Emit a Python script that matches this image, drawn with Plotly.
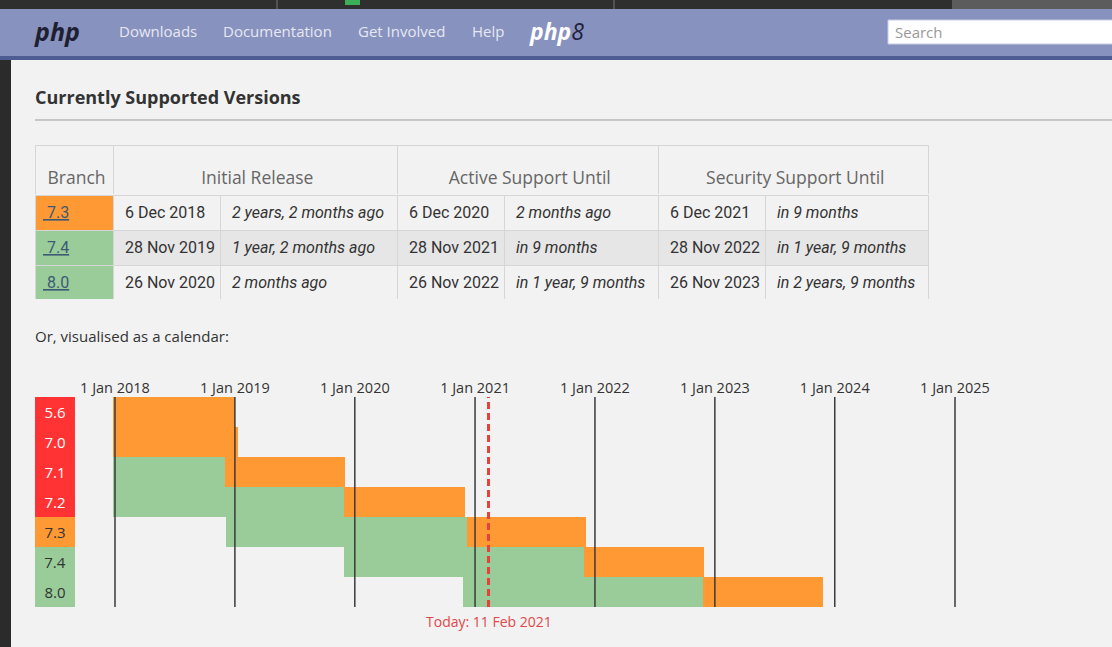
import pandas as pd
import plotly.graph_objects as go

W, H = 1112, 647

# --- table data ---
table_headers = ["Branch", "Initial Release", "Active Support Until", "Security Support Until"]
branches = ["7.3", "7.4", "8.0"]
initial_dates = ["6 Dec 2018", "28 Nov 2019", "26 Nov 2020"]
initial_ago = ["2 years, 2 months ago", "1 year, 2 months ago", "2 months ago"]
active_dates = ["6 Dec 2020", "28 Nov 2021", "26 Nov 2022"]
active_rel = ["2 months ago", "in 9 months", "in 1 year, 9 months"]
security_dates = ["6 Dec 2021", "28 Nov 2022", "26 Nov 2023"]
security_rel = ["in 9 months", "in 1 year, 9 months", "in 2 years, 9 months"]
branch_state = ["security", "stable", "stable"]

# --- calendar data ---
versions = ["5.6", "7.0", "7.1", "7.2", "7.3", "7.4", "8.0"]
version_state = ["eol", "eol", "eol", "eol", "security", "stable", "stable"]
released = ["2014-08-28", "2015-12-03", "2016-12-01", "2017-11-30", "2018-12-06", "2019-11-28", "2020-11-26"]
active_until = ["2017-01-19", "2017-12-03", "2018-12-01", "2019-11-30", "2020-12-06", "2021-11-28", "2022-11-26"]
security_until = ["2018-12-31", "2019-01-10", "2019-12-01", "2020-11-30", "2021-12-06", "2022-11-28", "2023-11-26"]
years = ["2018-01-01", "2019-01-01", "2020-01-01", "2021-01-01",
         "2022-01-01", "2023-01-01", "2024-01-01", "2025-01-01"]
year_labels = ["1 Jan 2018", "1 Jan 2019", "1 Jan 2020", "1 Jan 2021",
               "1 Jan 2022", "1 Jan 2023", "1 Jan 2024", "1 Jan 2025"]
today = "2021-02-11"
today_label = "Today: 11 Feb 2021"

FONT = "Open Sans"
CELL_FONT = "Roboto"
GREEN, ORANGE, RED = "#99cc99", "#ff9933", "#ff3333"
state_color = {"eol": RED, "security": ORANGE, "stable": GREEN}
state_text = {"eol": "white", "security": "#333333", "stable": "#333333"}
NBSP = "\u00a0"
EMPTY_HEADER = 16  # height plotly gives a table with no header row
LINE = dict(color="#d6d6d6", width=1)
NOLINE = dict(width=0)
CLEAR = "rgba(0,0,0,0)"


def px(x):
  return x / W


def py(y):
  return 1 - y / H


def ms(a, b):
  # bar length in milliseconds for the date axis
  d = pd.to_datetime(pd.Series(b)) - pd.to_datetime(pd.Series(a))
  return (d.dt.total_seconds() * 1000).tolist()


def cell(v, tag=None):
  # table cells wrap on plain spaces, so swap them for nbsp
  out = []
  for s in v:
    s = NBSP + s.replace(" ", NBSP)
    out.append("<%s>%s</%s>" % (tag, s, tag) if tag else s)
  return out


fig = go.Figure()

# ---- calendar bars ----
fig.add_trace(go.Bar(orientation="h", y=versions, base=released, x=ms(released, active_until),
                     width=1, marker=dict(color=GREEN, line=dict(width=0)),
                     hoverinfo="skip", showlegend=False))
fig.add_trace(go.Bar(orientation="h", y=versions, base=active_until, x=ms(active_until, security_until),
                     width=1, marker=dict(color=ORANGE, line=dict(width=0)),
                     hoverinfo="skip", showlegend=False))

# branch labels on the left of the calendar
fig.add_trace(go.Bar(orientation="h", y=versions, x=[1] * len(versions), xaxis="x2",
                     width=1, marker=dict(color=[state_color[s] for s in version_state], line=dict(width=0)),
                     text=versions, textposition="inside", insidetextanchor="middle", textangle=0,
                     textfont=dict(family=FONT, size=15, color=[state_text[s] for s in version_state]),
                     hoverinfo="skip", showlegend=False))

# year lines + today line (overlay axis so they sit above the bars)
lx, ly = [], []
for d in years:
  lx += [d, d, None]
  ly += [0, 1, None]
fig.add_trace(go.Scatter(x=lx, y=ly, yaxis="y2", mode="lines",
                         line=dict(color="#3a3a3a", width=1.5), hoverinfo="skip", showlegend=False))
fig.add_trace(go.Scatter(x=[today, today], y=[0, 1], yaxis="y2", mode="lines",
                         line=dict(color="#e8413a", width=3, dash="7px,4px"),
                         hoverinfo="skip", showlegend=False))

# ---- table ----
head_widths = [78, 284, 261, 270]
# header frame
fig.add_trace(go.Table(
  domain=dict(x=[px(35), px(928)], y=[py(195), py(145)]),
  columnwidth=head_widths,
  header=dict(values=[""] * len(table_headers), height=50, fill=dict(color="#f2f2f2"), line=LINE),
  cells=dict(values=[[] for _ in table_headers])))
# header labels, laid over the frame a bit lower (table text is top aligned)
fig.add_trace(go.Table(
  domain=dict(x=[px(35), px(928)], y=[py(213), py(163)]),
  columnwidth=head_widths,
  header=dict(values=cell(table_headers), height=50,
              align=["left", "center", "center", "center"],
              fill=dict(color=CLEAR), line=NOLINE,
              font=dict(family=FONT, size=17.5, color="#666666")),
  cells=dict(values=[[] for _ in table_headers])))

row_bg = ["#f2f2f2", "#e6e6e6", "#f2f2f2"]
body_cols = [cell(branches, "u"), cell(initial_dates, "span"), cell(initial_ago, "i"),
             cell(active_dates, "span"), cell(active_rel, "i"),
             cell(security_dates, "span"), cell(security_rel, "i")]
fills = [[state_color[s] for s in branch_state]] + [row_bg] * 6
fig.add_trace(go.Table(
  domain=dict(x=[px(35), px(928)], y=[py(300), py(195 - EMPTY_HEADER)]),
  columnwidth=[78, 107, 177, 107, 154, 107, 163],
  header=dict(values=[], fill=dict(color=CLEAR), line=NOLINE),
  cells=dict(values=body_cols, height=35, align="left",
             fill=dict(color=fills), line=LINE,
             font=dict(family=CELL_FONT, size=16, color=["#3c5a78"] + ["#333333"] * 6))))

# ---- page chrome ----
shapes = [
  dict(type="rect", x0=0, x1=W, y0=0, y1=9, fillcolor="#2f2f2f"),
  dict(type="rect", x0=952, x1=W, y0=0, y1=9, fillcolor="#5c5c5c"),
  dict(type="line", x0=277, x1=277, y0=0, y1=9, line=dict(color="#777", width=1)),
  dict(type="line", x0=614, x1=614, y0=0, y1=9, line=dict(color="#777", width=1)),
  dict(type="rect", x0=345, x1=360, y0=0, y1=5, fillcolor="#3cae5a"),
  dict(type="rect", x0=0, x1=W, y0=9, y1=56, fillcolor="#8892bf"),
  dict(type="rect", x0=0, x1=W, y0=56, y1=60, fillcolor="#4f5b93"),
  dict(type="rect", x0=0, x1=11, y0=60, y1=H, fillcolor="#2b2b2b"),
  dict(type="rect", x0=888, x1=W + 5, y0=20, y1=44, fillcolor="white", line=dict(color="#c8cbe0", width=1)),
  dict(type="line", x0=35, x1=W, y0=120, y1=120, line=dict(color="#999999", width=1)),
]
for s in shapes:
  s.setdefault("line", dict(width=0))
  s.update(xref="paper", yref="paper", layer="below",
           x0=px(s["x0"]), x1=px(s["x1"]), y0=py(s["y0"]), y1=py(s["y1"]))


def note(text, x, y, size=16, color="#333333", anchor="left"):
  return dict(text=text, x=px(x), y=py(y), xref="paper", yref="paper", xanchor=anchor, yanchor="middle",
              showarrow=False, font=dict(family=FONT, size=size, color=color))


nav_items = ["Downloads", "Documentation", "Get Involved", "Help"]
nav_x = [117, 221, 356, 470]
annotations = [note("<b><i>php</i></b>", 32, 31, size=25, color="#1f1f33")]
annotations += [note(t, x, 31, size=15, color="#e6e8f2") for t, x in zip(nav_items, nav_x)]
annotations += [
  note("<b><i>php</i></b><span style='color:#1f2340'><i>8</i></span>", 527, 31, size=23, color="white"),
  note("Search", 893, 32, size=15, color="#999999"),
  note("<b>Currently Supported Versions</b>", 33, 97, size=18, color="#333333"),
  note("Or, visualised as a calendar:", 33, 336, size=15, color="#333333"),
  dict(text=today_label, x=today, xref="x", y=py(621), yref="paper", xanchor="center", yanchor="middle",
       showarrow=False, font=dict(family=FONT, size=14, color="#e0484a")),
]

# date scale: 1 Jan 2018 at px 115, 120 px per year
x0 = pd.Timestamp("2018-01-01")
px_per_day = 840 / (pd.Timestamp("2025-01-01") - x0).days
left_px, right_px = 113, 1000
range_start = x0 - pd.Timedelta(days=(115 - left_px) / px_per_day)
range_end = x0 + pd.Timedelta(days=(right_px - 115) / px_per_day)

fig.update_layout(
  width=W, height=H, margin=dict(l=0, r=0, t=0, b=0, pad=0, autoexpand=False),
  paper_bgcolor="#f2f2f2", plot_bgcolor="rgba(0,0,0,0)",
  barmode="overlay", bargap=0, showlegend=False,
  font=dict(family=FONT, color="#333333"),
  shapes=shapes, annotations=annotations,
  xaxis=dict(type="date", domain=[px(left_px), px(right_px)], range=[range_start, range_end],
             side="top", tickvals=years, ticktext=year_labels, ticks="", showgrid=False,
             zeroline=False, showline=False, tickfont=dict(family=FONT, size=14.5, color="#333333"),
             fixedrange=True, automargin=False),
  xaxis2=dict(domain=[px(35), px(75)], range=[0, 1], visible=False, anchor="y"),
  yaxis=dict(type="category", categoryorder="array", categoryarray=versions,
             range=[len(versions) - 0.5, -0.5], domain=[py(607), py(397)],
             visible=False, anchor="x"),
  yaxis2=dict(domain=[py(607), py(397)], range=[0, 1], overlaying="y", visible=False, anchor="x"),
  hovermode=False,
)

fig.write_html("out.html", config={"displayModeBar": False},
               post_script="document.body.style.margin='0px';")
